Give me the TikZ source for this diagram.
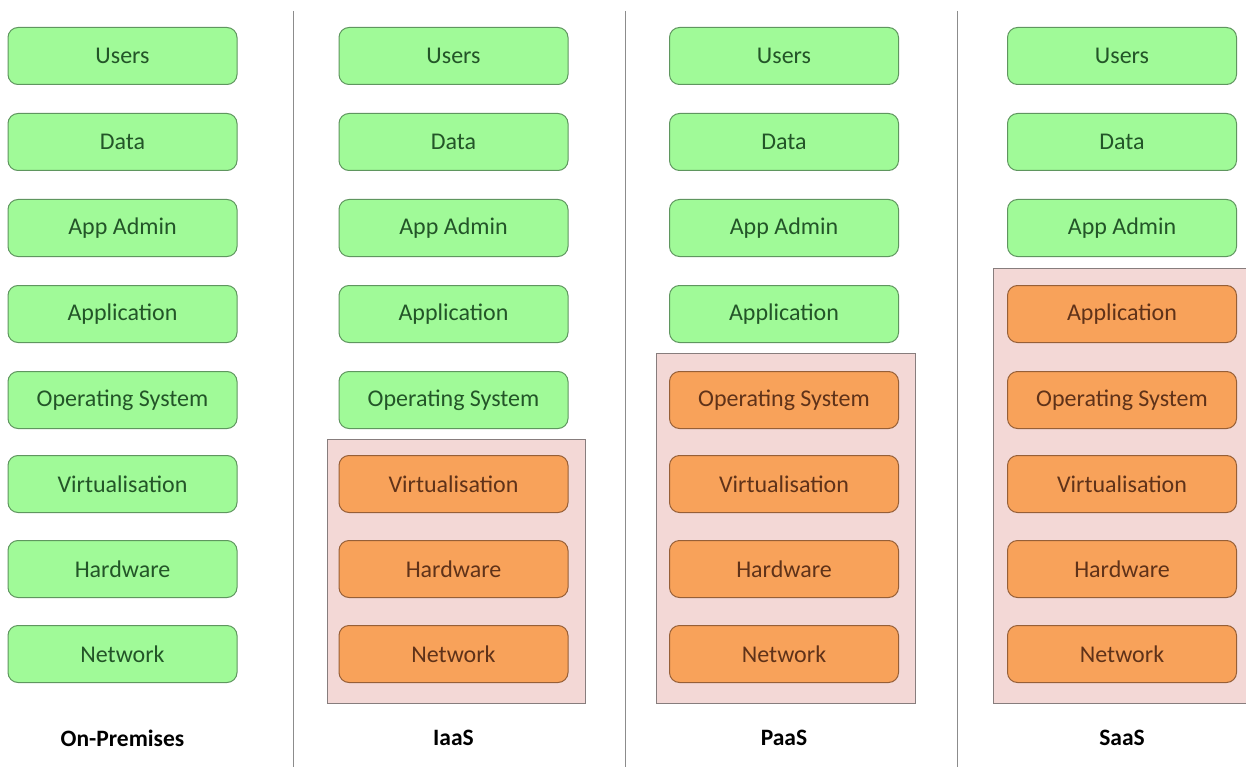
\documentclass[tikz,border=0pt]{standalone}
\usepackage{fontspec}
\setmainfont{Carlito}
\definecolor{gfill}{RGB}{160,250,152}
\definecolor{gdraw}{RGB}{95,150,95}
\definecolor{gtext}{RGB}{35,85,40}
\definecolor{ofill}{RGB}{248,162,90}
\definecolor{odraw}{RGB}{150,95,55}
\definecolor{otext}{RGB}{95,50,25}
\definecolor{pfill}{RGB}{243,216,214}
\definecolor{pdraw}{RGB}{135,125,125}
\definecolor{sepc}{RGB}{140,140,140}
\tikzset{
  layer/.style={rounded corners=10pt, minimum width=229pt, minimum height=57pt, line width=1pt, font=\fontsize{24}{28}\selectfont, inner sep=0pt},
  green/.style={layer, fill=gfill, draw=gdraw, text=gtext},
  orange/.style={layer, fill=ofill, draw=odraw, text=otext},
  zone/.style={fill=pfill, draw=pdraw, line width=1pt},
  sep/.style={draw=sepc, line width=1pt},
  title/.style={font=\fontsize{23.5}{28}\selectfont\bfseries, text=black}
}
\begin{document}
\begin{tikzpicture}[x=1pt,y=-1pt]
\useasboundingbox (0,0) rectangle (1246,767);
\fill[white] (0,0) rectangle (1246,767);
% zones
\draw[zone] (327,439) rectangle (585,703);
\draw[zone] (656,353) rectangle (915,703);
\draw[zone] (993,268) rectangle (1250,703);
% separators
\coordinate (s1t) at (293,11); \coordinate (s1b) at (293,767);
\coordinate (s2t) at (625,11); \coordinate (s2b) at (625,767);
\coordinate (s3t) at (957,11); \coordinate (s3b) at (957,767);
\draw[sep] (s1t) -- (s1b);
\draw[sep] (s2t) -- (s2b);
\draw[sep] (s3t) -- (s3b);
% rows
\def\rows{56/Users/u,142/Data/d,228/App Admin/a,314/Application/ap,400/Operating System/os,484/Virtualisation/v,569/Hardware/h,654/Network/n}
% column 1: all green
\foreach \y/\t/\n in \rows {\node[green] (c1\n) at (122.5,\y) {\t};}
% column 2: IaaS
\foreach \y/\t/\n [count=\i] in \rows {
  \ifnum\i<6 \node[green] (c2\n) at (453.5,\y) {\t};
  \else \node[orange] (c2\n) at (453.5,\y) {\t}; \fi}
% column 3: PaaS
\foreach \y/\t/\n [count=\i] in \rows {
  \ifnum\i<5 \node[green] (c3\n) at (784,\y) {\t};
  \else \node[orange] (c3\n) at (784,\y) {\t}; \fi}
% column 4: SaaS
\foreach \y/\t/\n [count=\i] in \rows {
  \ifnum\i<4 \node[green] (c4\n) at (1122,\y) {\t};
  \else \node[orange] (c4\n) at (1122,\y) {\t}; \fi}
% titles
\node[title] (t1) at (122.5,738) {On-Premises};
\node[title] (t2) at (453.5,738) {IaaS};
\node[title] (t3) at (784,738) {PaaS};
\node[title] (t4) at (1122,738) {SaaS};
\end{tikzpicture}
\end{document}
